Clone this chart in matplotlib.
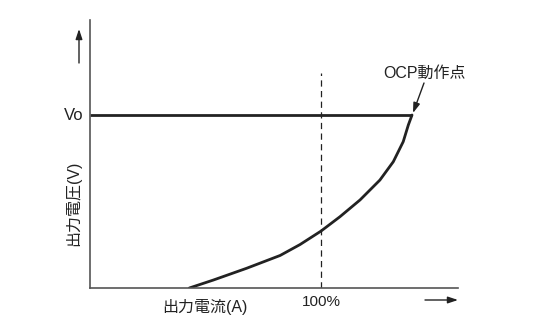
import matplotlib
matplotlib.use("Agg")
import matplotlib.pyplot as plt

plt.rcParams['font.family'] = ['Liberation Sans', 'Noto Sans CJK JP', 'DejaVu Sans']

# output current (% of rated) and output voltage (% of Vo)
current = [43.0, 53.4, 67.8, 82.3, 90.9, 100.0, 108.2, 116.9, 125.5, 131.3, 135.6, 137.8, 139.4]
voltage = [0.0, 4.6, 11.4, 18.8, 25.1, 32.9, 41.2, 50.9, 62.4, 73.0, 84.6, 94.2, 100.0]
vo_level = 100.0
ocp_current = 139.4
rated = 100.0

W, H = 537, 330
fig = plt.figure(figsize=(W / 100, H / 100), dpi=100)
x0, y0, x1, y1 = 90, 288, 458, 20
ax = fig.add_axes([x0 / W, 1 - y0 / H, (x1 - x0) / W, (y0 - y1) / H])
sx = 100 / 231
sy = 100 / 173
ax.set_xlim(0, (x1 - x0) * sx)
ax.set_ylim(0, (y0 - y1) * sy)
for s in ['top', 'right']:
    ax.spines[s].set_visible(False)
for s in ['left', 'bottom']:
    ax.spines[s].set_color('#555555')
    ax.spines[s].set_linewidth(1.2)
ax.set_xticks([])
ax.set_yticks([])

ax.plot([0, ocp_current], [vo_level, vo_level], color='#222222', lw=2.0,
        solid_capstyle='butt')
ax.plot(current, voltage, color='#222222', lw=2.0, solid_capstyle='round',
        solid_joinstyle='round')
ax.plot([rated, rated], [0, 124.3], color='#222222', lw=0.9, ls=(0, (5, 3.5)))

def px(x, y):
    return ((x - x0) * sx, (y0 - y) * sy)

ax.text(*px(84, 115), 'Vo', ha='right', va='center', fontsize=12,
        color='#222222', clip_on=False)
ax.text(*px(73, 203), '出力電圧(V)', ha='center', va='center', fontsize=11.5,
        rotation=90, color='#222222', clip_on=False)
ax.text(*px(205, 307), '出力電流(A)', ha='center', va='center', fontsize=11.5,
        color='#222222', clip_on=False)
ax.text(*px(321, 302), '100%', ha='center', va='center', fontsize=11,
        color='#222222', clip_on=False)
ax.text(*px(424, 73), 'OCP動作点', ha='center', va='center', fontsize=11.5,
        color='#222222', clip_on=False)

arrow = dict(arrowstyle='-|>,head_length=0.6,head_width=0.2', color='#222222',
             lw=1.0, shrinkA=0, shrinkB=0)
ax.annotate('', xy=px(413, 113), xytext=px(424, 83), arrowprops=arrow,
            annotation_clip=False)
ax.annotate('', xy=px(458, 300), xytext=px(425, 300), arrowprops=arrow,
            annotation_clip=False)
ax.annotate('', xy=px(79, 29), xytext=px(79, 63), arrowprops=arrow,
            annotation_clip=False)

fig.savefig('out.png', dpi=100)
